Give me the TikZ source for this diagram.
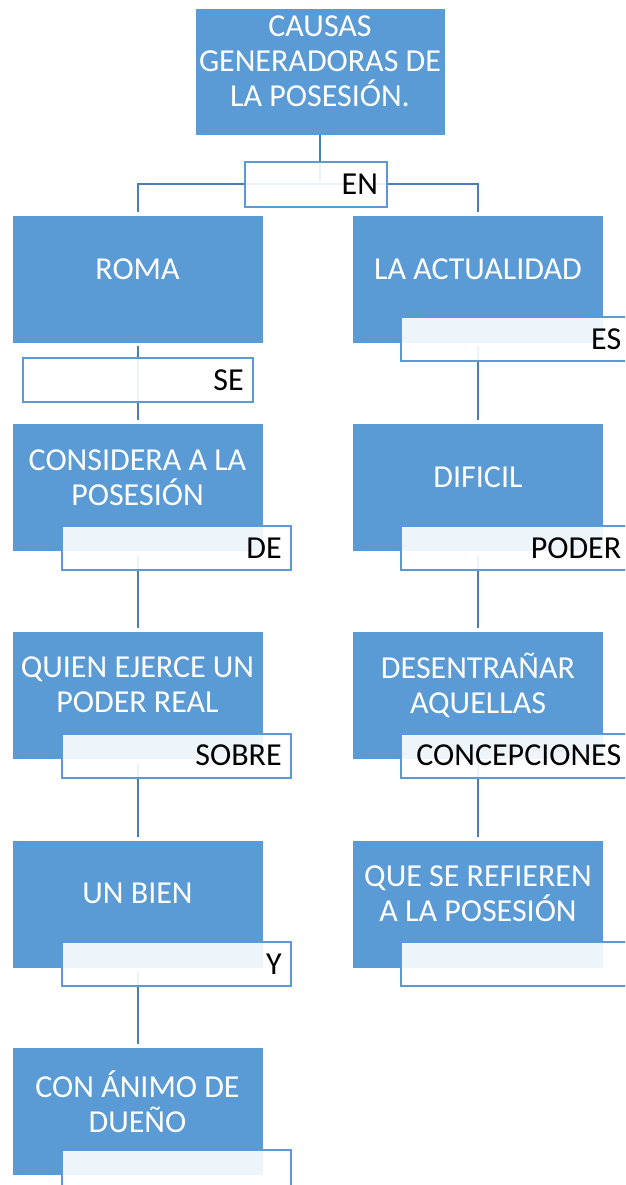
\documentclass[tikz,border=0pt]{standalone}
\usepackage{fontspec}
\setmainfont{Carlito}
\usepackage{tikz}
\usetikzlibrary{positioning}

\definecolor{boxblue}{HTML}{5B9BD5}
\definecolor{lineblue}{HTML}{4A7EBB}

\tikzset{
  bigbox/.style={rectangle, fill=boxblue, draw=white, line width=0.6pt, minimum width=251pt, minimum height=128pt, inner sep=0pt},
  boxtext/.style={text=white, align=center, font=\fontsize{32}{35}\selectfont, yshift=10pt},
  tagbox/.style={rectangle, draw=boxblue, line width=2pt, fill=white, fill opacity=0.9, text opacity=1, minimum height=44pt, text width=#1, inner xsep=9pt, inner ysep=0pt, align=right, font=\fontsize{32}{35}\selectfont},
  tagbox/.default=211pt,
  link/.style={draw=lineblue, line width=2pt, shorten <=3pt, shorten >=3pt}
}

\begin{document}
\begin{tikzpicture}[x=1pt, y=-1pt]

\useasboundingbox (0,0) rectangle (625,1185);
\clip (0,0) rectangle (625,1185);

\node[bigbox, minimum width=250pt, minimum height=127pt, label={[boxtext]center:CAUSAS\\GENERADORAS DE\\LA POSESIÓN.}] (causas) at (320,71.5) {};

\coordinate (enpos) at (316,184.5);

\node[bigbox, label={[boxtext]center:ROMA}] (roma) at (137.5,279) {};

\node[bigbox, label={[boxtext]center:LA ACTUALIDAD}] (actualidad) at (478,279) {};

\node[bigbox, below=80pt of roma, label={[boxtext]center:CONSIDERA A LA\\POSESIÓN}] (considera) {};

\node[bigbox, below=79pt of considera, label={[boxtext]center:QUIEN EJERCE UN\\PODER REAL}] (quien) {};

\node[bigbox, below=80pt of quien, label={[boxtext]center:UN BIEN}] (bien) {};

\node[bigbox, below=79pt of bien, label={[boxtext]center:CON ÁNIMO DE\\DUEÑO}] (animo) {};

\node[bigbox, below=80pt of actualidad, label={[boxtext]center:DIFICIL}] (dificil) {};

\node[bigbox, below=79pt of dificil, label={[boxtext]center:DESENTRAÑAR\\AQUELLAS}] (desentranar) {};

\node[bigbox, below=80pt of desentranar, label={[boxtext]center:QUE SE REFIEREN\\A LA POSESIÓN}] (refieren) {};

\draw[link, shorten <=0pt] (causas.south) -- (causas.south |- enpos);
\draw[link] (roma.north) |- (enpos) -| (actualidad.north);

\draw[link] (roma.south) -- (considera.north);
\draw[link] (considera.south) -- (quien.north);
\draw[link] (quien.south) -- (bien.north);
\draw[link] (bien.south) -- (animo.north);

\draw[link] (actualidad.south) -- (dificil.north);
\draw[link] (dificil.south) -- (desentranar.north);
\draw[link] (desentranar.south) -- (refieren.north);

\node[tagbox=124pt] (en) at (enpos) {EN};

\node[tagbox=212pt, below right=14pt and 10pt of roma.south west] (se) {SE};

\node[tagbox, below right=-27pt and 49pt of considera.south west] (de) {DE};

\node[tagbox, below right=-27pt and 49pt of quien.south west] (sobre) {SOBRE};

\node[tagbox, below right=-27pt and 49pt of bien.south west] (y) {Y};

\node[tagbox, below right=-27pt and 49pt of animo.south west] (animotag) {};

\node[tagbox, below right=-27pt and 48pt of actualidad.south west] (es) {ES};

\node[tagbox, below right=-27pt and 48pt of dificil.south west] (poder) {PODER};

\node[tagbox, below right=-27pt and 48pt of desentranar.south west] (concepciones) {CONCEPCIONES};

\node[tagbox, below right=-27pt and 48pt of refieren.south west] (refierentag) {};

\end{tikzpicture}
\end{document}
